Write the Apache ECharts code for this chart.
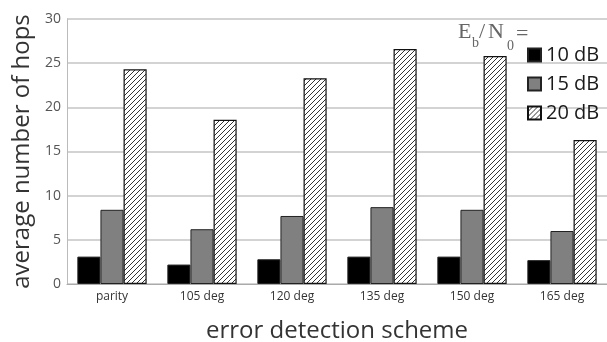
<!DOCTYPE html>
<html><head><meta charset="utf-8">
<script src="https://cdn.jsdelivr.net/npm/echarts@6/dist/echarts.min.js"></script>
<style>html,body{margin:0;padding:0;background:#fff}#c{width:607px;height:342px}</style>
</head><body><div id="c"></div>
<script>
const categories = ['parity','105 deg','120 deg','135 deg','150 deg','165 deg'];
const seriesNames = ['10 dB','15 dB','20 dB'];
const s10 = [3.1, 2.2, 2.8, 3.1, 3.1, 2.7];
const s15 = [8.4, 6.2, 7.7, 8.7, 8.4, 6.0];
const s20 = [24.3, 18.6, 23.3, 26.6, 25.8, 16.3];
const yTicks = [0,5,10,15,20,25,30];

function hatch(){
  const c = document.createElement('canvas');
  c.width = 5; c.height = 5;
  const g = c.getContext('2d');
  g.fillStyle = '#fff'; g.fillRect(0,0,5,5);
  g.strokeStyle = '#333'; g.lineWidth = 1;
  g.beginPath();
  g.moveTo(0,5); g.lineTo(5,0);
  g.moveTo(-3,3); g.lineTo(3,-3);
  g.moveTo(2,8); g.lineTo(8,2);
  g.stroke();
  return {image: c, repeat: 'repeat'};
}
const font = 'Open Sans';
const serif = 'Liberation Serif';
const eb = {fontFamily:serif, fontSize:22, fill:'#666'};
const sub = {fontFamily:serif, fontSize:14, fill:'#666'};
const chart = echarts.init(document.getElementById('c'), null, {renderer:'canvas'});
chart.setOption({
  animation:false,
  textStyle:{fontFamily:font},
  grid:{left:67,right:0,top:19,bottom:58,containLabel:false,outerBoundsMode:'none'},
  legend:{
    orient:'vertical', left:527, top:45, itemWidth:13, itemHeight:13, itemGap:9, padding:0,
    textStyle:{fontSize:20,lineHeight:20,color:'#1a1a1a',fontFamily:font},
    icon:'rect',
    data:seriesNames
  },
  graphic:[
    {type:'text', left:458, top:21, style:Object.assign({text:'E'}, eb)},
    {type:'text', left:472, top:36, style:Object.assign({text:'b'}, sub)},
    {type:'text', left:479, top:21, style:Object.assign({text:'/'}, eb)},
    {type:'text', left:488, top:21, style:Object.assign({text:'N'}, eb)},
    {type:'text', left:507, top:39, style:Object.assign({text:'0'}, sub)},
    {type:'text', left:516, top:23, style:Object.assign({text:'='}, eb)}
  ],
  xAxis:{type:'category',data:categories,
    name:'error detection scheme',nameLocation:'middle',nameGap:35,
    nameTextStyle:{fontSize:24,color:'#333',fontFamily:font},
    axisLine:{lineStyle:{color:'#aaa'}},
    axisTick:{inside:true,length:5,lineStyle:{color:'#aaa'}},
    axisLabel:{fontSize:12,color:'#333',margin:7}
  },
  yAxis:{type:'value',min:0,max:30,interval:5,
    name:'average number of hops',nameLocation:'middle',nameGap:33,
    nameTextStyle:{fontSize:24,color:'#333',fontFamily:font},
    axisLine:{show:true,lineStyle:{color:'#bbb'}},
    axisTick:{show:false},
    axisLabel:{fontSize:14,color:'#555',margin:6,formatter:v=>yTicks.includes(v)?String(v):''},
    splitLine:{lineStyle:{color:'#c4c4c4',width:1.5}}
  },
  series:[
    {name:seriesNames[0],type:'bar',data:s10,barGap:'0%',barCategoryGap:'23%',
     itemStyle:{color:'#000',borderColor:'#222',borderWidth:1}},
    {name:seriesNames[1],type:'bar',data:s15,barGap:'0%',barCategoryGap:'23%',
     itemStyle:{color:'#808080',borderColor:'#222',borderWidth:1}},
    {name:seriesNames[2],type:'bar',data:s20,barGap:'0%',barCategoryGap:'23%',
     itemStyle:{color:hatch(),borderColor:'#111',borderWidth:1.2}}
  ]
});
</script></body></html>
